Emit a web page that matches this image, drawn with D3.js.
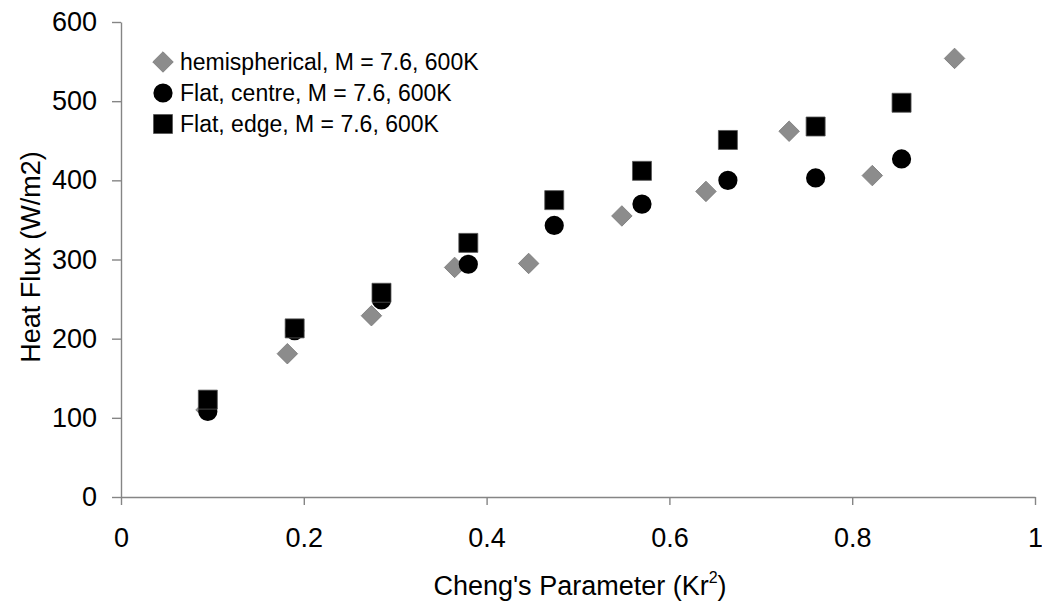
<!DOCTYPE html>
<html>
<head>
<meta charset="utf-8">
<script src="https://cdn.jsdelivr.net/npm/d3@7"></script>
<style>
  body { margin: 0; background: #fff; }
  svg { display: block; }
  text { font-family: "Liberation Sans", Arial, sans-serif; fill: #000; }
</style>
</head>
<body>
<svg id="chart" width="1042" height="611"></svg>
<script>
// values
var hemiX = [0.093, 0.182, 0.274, 0.365, 0.446, 0.548, 0.640, 0.731, 0.822, 0.912];
var hemiY = [110, 181, 229, 290, 295, 355, 386, 462, 406, 554];
var centreX = [0.095, 0.190, 0.285, 0.380, 0.474, 0.570, 0.664, 0.760, 0.854];
var centreY = [108, 210, 249, 294, 343, 370, 400, 403, 427];
var edgeX = [0.095, 0.190, 0.285, 0.380, 0.474, 0.570, 0.664, 0.760, 0.854];
var edgeY = [123, 213, 258, 321, 375, 412, 451, 468, 498];

var seriesNames = [
  "hemispherical, M = 7.6, 600K",
  "Flat, centre, M = 7.6, 600K",
  "Flat, edge, M = 7.6, 600K"
];
var xTicks = [0, 0.2, 0.4, 0.6, 0.8, 1];
var yTicks = [0, 100, 200, 300, 400, 500, 600];

let plotLeft = 121, plotRight = 1035, plotTop = 22, plotBottom = 497;

let svg = d3.select("#chart");

let x = d3.scaleLinear().domain([0, 1]).range([plotLeft, plotRight]);
let y = d3.scaleLinear().domain([0, 600]).range([plotBottom, plotTop]);

// axes
let yAxis = svg
  .append("g")
  .attr("transform", "translate(" + plotLeft + ",0)")
  .call(
    d3.axisLeft(y)
      .tickValues(yTicks)
      .tickSize(9)
      .tickSizeOuter(0)
      .tickPadding(15)
      .tickFormat(function(d) { return String(d); })
  );

let xAxis = svg
  .append("g")
  .attr("transform", "translate(0," + plotBottom + ")")
  .call(
    d3.axisBottom(x)
      .tickValues(xTicks)
      .tickSize(8)
      .tickSizeOuter(0)
      .tickPadding(23)
      .tickFormat(function(d) { return String(d); })
  );

[xAxis, yAxis].forEach(function(ax) {
  ax.select(".domain").attr("stroke", "#858585").attr("stroke-width", 1.4);
  ax.selectAll(".tick line").attr("stroke", "#858585").attr("stroke-width", 1.4);
  ax.selectAll(".tick text")
    .attr("font-size", "27px")
    .attr("fill", "#000")
    .style("font-family", "'Liberation Sans', Arial, sans-serif");
});

// axis titles
svg
  .append("text")
  .attr("transform", "translate(40,257) rotate(-90)")
  .attr("text-anchor", "middle")
  .attr("font-size", "27px")
  .text("Heat Flux (W/m2)");

let xt = svg
  .append("text")
  .attr("x", 580)
  .attr("y", 595)
  .attr("text-anchor", "middle")
  .attr("font-size", "27px");
xt.append("tspan").text("Cheng's Parameter (Kr");
xt.append("tspan").attr("font-size", "16px").attr("dy", -12).text("2");
xt.append("tspan").attr("dy", 12).text(")");

// markers
let diamond = d3.symbol().type(d3.symbolSquare).size(210);
let circle = d3.symbol().type(d3.symbolCircle).size(290);
let square = d3.symbol().type(d3.symbolSquare).size(361);

let series = [
  { name: seriesNames[0], xs: hemiX, ys: hemiY, sym: diamond, rot: 45, fill: "#8c8c8c", stroke: "#7a7a7a" },
  { name: seriesNames[1], xs: centreX, ys: centreY, sym: circle, rot: 0, fill: "#000", stroke: "none" },
  { name: seriesNames[2], xs: edgeX, ys: edgeY, sym: square, rot: 0, fill: "#000", stroke: "#555" }
];

series.forEach(function(s) {
  svg
    .append("g")
    .selectAll("path")
    .data(s.xs.map(function(v, i) { return [v, s.ys[i]]; }))
    .enter()
    .append("path")
    .attr("d", s.sym)
    .attr("fill", s.fill)
    .attr("stroke", s.stroke)
    .attr("stroke-width", 0.8)
    .attr("transform", function(d) {
      return "translate(" + x(d[0]) + "," + y(d[1]) + ") rotate(" + s.rot + ")";
    });
});

// legend
let legend = svg
  .append("g")
  .selectAll("g")
  .data(series)
  .enter()
  .append("g")
  .attr("transform", function(d, i) {
    return "translate(163," + (62 + i * 31) + ")";
  });

legend
  .append("path")
  .attr("d", function(d) { return d.sym(); })
  .attr("fill", function(d) { return d.fill; })
  .attr("stroke", function(d) { return d.stroke; })
  .attr("stroke-width", 0.8)
  .attr("transform", function(d) { return "rotate(" + d.rot + ")"; });

legend
  .append("text")
  .attr("x", 17)
  .attr("dy", "0.36em")
  .attr("font-size", "23px")
  .text(function(d) { return d.name; });
</script>
</body>
</html>
